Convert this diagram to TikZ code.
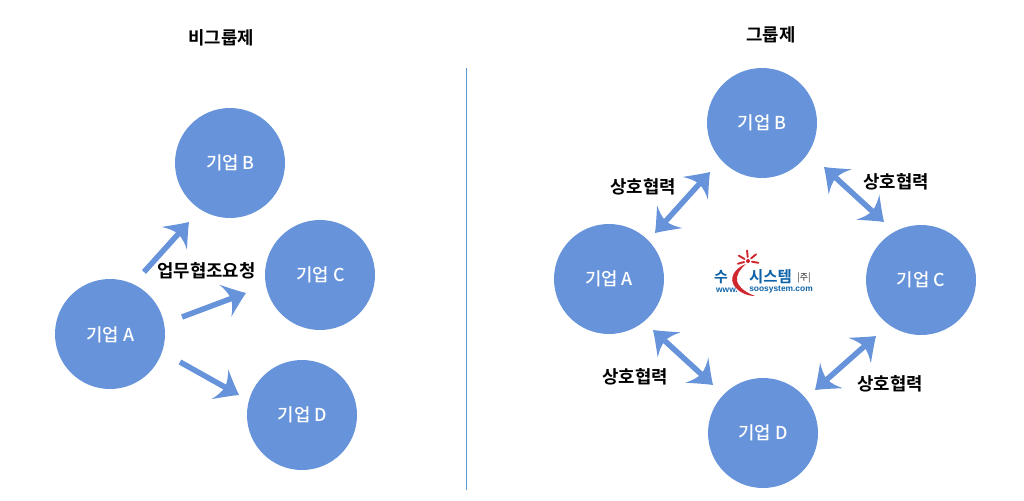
\documentclass[tikz,border=0pt]{standalone}
\usepackage{fontspec}
\setmainfont{Noto Sans CJK KR Medium}[BoldFont={Noto Sans CJK KR Bold}]
\newfontfamily\boldko{Noto Sans CJK KR Bold}
\newfontfamily\latinlogo{Liberation Sans}
\usetikzlibrary{arrows.meta}
\definecolor{cblue}{HTML}{6693DA}
\definecolor{lineblue}{HTML}{5B9BD5}
\definecolor{logored}{HTML}{D0272E}
\definecolor{logoblue}{HTML}{0E63A8}
\pgfdeclarearrow{
  name=Swept,
  parameters={0},
  setup code={
    \pgfarrowssettipend{22pt}
    \pgfarrowssetlineend{8pt}
    \pgfarrowssetvisualbackend{0pt}
    \pgfarrowssetbackend{0pt}
  },
  drawing code={
    \pgfpathmoveto{\pgfqpoint{22pt}{0pt}}
    \pgfpathcurveto{\pgfqpoint{14pt}{5.5pt}}{\pgfqpoint{7pt}{11.5pt}}{\pgfqpoint{0pt}{17pt}}
    \pgfpathcurveto{\pgfqpoint{3pt}{12pt}}{\pgfqpoint{5.5pt}{6pt}}{\pgfqpoint{6pt}{0pt}}
    \pgfpathcurveto{\pgfqpoint{5.5pt}{-6pt}}{\pgfqpoint{3pt}{-12pt}}{\pgfqpoint{0pt}{-17pt}}
    \pgfpathcurveto{\pgfqpoint{7pt}{-11.5pt}}{\pgfqpoint{14pt}{-5.5pt}}{\pgfqpoint{22pt}{0pt}}
    \pgfpathclose
    \pgfusepathqfill
  }
}
\tikzset{
  firm/.style={circle,fill=cblue,draw=none,minimum size=110pt,inner sep=0pt,text=white,font=\fontsize{17.8}{20}\selectfont},
  lab/.style={inner sep=0pt,text=black,font=\boldko\fontsize{17.8}{20}\selectfont},
  one/.style={cblue,line width=5.5pt,-{Swept}},
  two/.style={cblue,line width=5.5pt,{Swept}-{Swept}},
  ray/.style={logored,line width=1.9pt,line cap=round},
}
\begin{document}
\begin{tikzpicture}[x=1pt,y=-1pt]
\useasboundingbox (0,0) rectangle (1024,500);
\node[lab] (t1) at (221,38) {비그룹제};
\node[lab] (t2) at (771,35) {그룹제};
\coordinate (d1) at (466,68);
\coordinate (d2) at (466,490);
\draw[lineblue,line width=0.9pt] (d1) -- (d2);
% left group
\node[firm,text depth=0pt] (la) at (110,334) {\raisebox{-1pt}{\hspace{1pt}기업 A}};
\node[firm] (lb) at (230,163) {\raisebox{-1pt}{\hspace{1pt}기업 B}};
\node[firm] (lc) at (320,275) {\raisebox{-1pt}{\hspace{1pt}기업 C}};
\node[firm] (ld) at (302,415) {\raisebox{-1pt}{\hspace{1pt}기업 D}};
\coordinate (s1) at (144,272); \coordinate (e1) at (189,222);
\coordinate (s2) at (182,317); \coordinate (e2) at (246,293);
\coordinate (s3) at (180,362); \coordinate (e3) at (239,395);
\draw[one] (s1) -- (e1);
\draw[one] (s2) -- (e2);
\draw[one] (s3) -- (e3);
\node[lab] (ask) at (206.5,271) {업무협조요청};
% right group
\node[firm] (ra) at (609,279) {\raisebox{-1pt}{기업 A}};
\node[firm] (rb) at (762,123) {\raisebox{-1pt}{기업 B}};
\node[firm] (rc) at (921,280) {\raisebox{-1pt}{기업 C}};
\node[firm] (rd) at (763,433) {\raisebox{-1pt}{기업 D}};
\coordinate (ab1) at (655,233); \coordinate (ab2) at (710,172);
\coordinate (bc1) at (824,167); \coordinate (bc2) at (884,222);
\coordinate (cd1) at (876,336); \coordinate (cd2) at (815,390);
\coordinate (ad1) at (653,330); \coordinate (ad2) at (713,385);
\draw[two] (ab1) -- (ab2);
\draw[two] (bc1) -- (bc2);
\draw[two] (cd1) -- (cd2);
\draw[two] (ad1) -- (ad2);
\node[lab] (m1) at (643,187) {상호협력};
\node[lab] (m2) at (896,182) {상호협력};
\node[lab] (m3) at (635,377) {상호협력};
\node[lab] (m4) at (890,384) {상호협력};
% logo
\foreach \a in {-95,-40,10,-150,165}
  \draw[ray] ({748+4*cos(\a)},{261+4*sin(\a)}) -- ({748+10.5*cos(\a)},{261+10.5*sin(\a)});
\fill[logored] (748,261) circle (2pt);
\fill[logored] (746,264) .. controls (735,268) and (728,278) .. (735,287)
  .. controls (739,292) and (747,296) .. (755,296)
  .. controls (747,293) and (739,288) .. (737,281)
  .. controls (736,275) and (740,269) .. (746,264) -- cycle;
\node[inner sep=0pt,text=logoblue,font=\boldko\fontsize{15}{16}\selectfont] (lg1) at (721,277) {수};
\node[inner sep=0pt,text=logoblue,font=\boldko\fontsize{15.5}{16}\selectfont] (lg2) at (770.5,277) {시스템};
\node[inner sep=0pt,text=black!70,font=\fontsize{9}{10}\selectfont] (lg3) at (804,278) {|주|};
\node[inner sep=0pt,text=logoblue,font=\latinlogo\bfseries\fontsize{8.4}{10}\selectfont] (lg4) at (727,290) {www.};
\node[inner sep=0pt,text=logoblue,font=\latinlogo\bfseries\fontsize{8.4}{10}\selectfont] (lg5) at (781,290) {soosystem.com};
\end{tikzpicture}
\end{document}
